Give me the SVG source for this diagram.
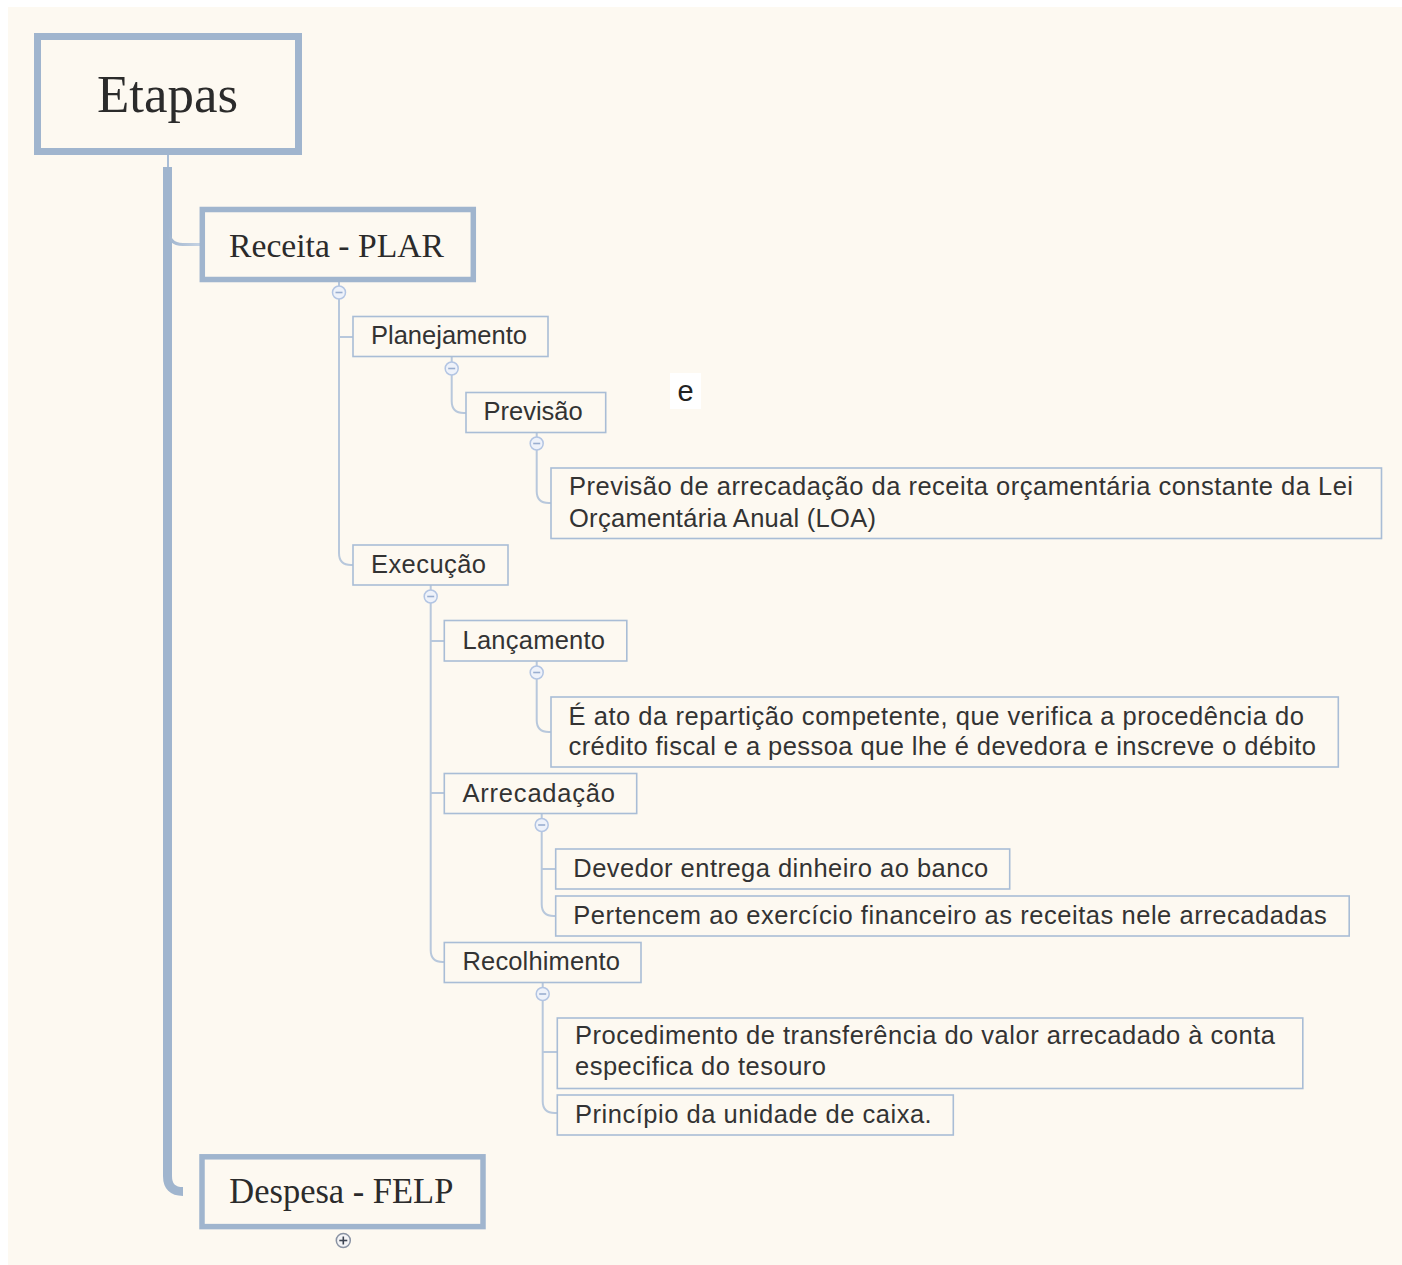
<svg xmlns="http://www.w3.org/2000/svg" width="1402" height="1265" viewBox="0 0 1402 1265">
<defs>
<style>
.bg{fill:#fdf9f1}
.main{fill:none;stroke:#a0b5ce;stroke-width:7}
.sec{fill:none;stroke:#a0b5ce;stroke-width:5.5}
.box{fill:#fdf9f1;stroke:#a9bdd6;stroke-width:1.6}
.ser{font-family:"Liberation Serif","DejaVu Serif",serif;fill:#2b2b2b}
.sans{font-family:"Liberation Sans",Arial,sans-serif;font-size:25.5px;fill:#333}
.con{fill:none;stroke:#b8c8dc;stroke-width:2}
.tog{fill:#eef2fa;stroke:#b3c5e3;stroke-width:1.5}
.tm{stroke:#9aaed0;stroke-width:1.6}
</style>
<linearGradient id="fadeH" x1="0" y1="0" x2="1" y2="0">
<stop offset="0" stop-color="#a0b5ce"/>
<stop offset="1" stop-color="#c6d3e3"/>
</linearGradient>
</defs>
<rect x="0" y="0" width="1402" height="1265" fill="#ffffff"/>
<rect class="bg" x="8" y="7" width="1394" height="1258"/>

<g id="connectors">
<line x1="168" y1="155" x2="168" y2="168" stroke="#a9bdd6" stroke-width="2"/>
<path d="M167.5 167 V1176 Q167.5 1191.5 183 1191.5" fill="none" stroke="#a0b5ce" stroke-width="9"/>
<path d="M182 1191.5 H200" fill="none" stroke="url(#fadeH)" stroke-width="4"/>
<path d="M168 228 Q168 244.5 183 244.5 H200" fill="none" stroke="url(#fadeH)" stroke-width="3"/>
<path class="con" d="M339 282 V286"/>
<path class="con" d="M339 299 V553 Q339 565 351 565 H353"/>
<path class="con" d="M339 337 H353"/>
<path class="con" d="M451.7 357 V362"/>
<path class="con" d="M451.7 375 V401 Q451.7 413 463.7 413 H466"/>
<path class="con" d="M536.7 432.7 V437"/>
<path class="con" d="M536.7 450 V491 Q536.7 503 548.7 503 H551"/>
<path class="con" d="M430.7 585 V590"/>
<path class="con" d="M430.7 603 V950 Q430.7 962 442.7 962 H444.3"/>
<path class="con" d="M430.7 641 H444.3"/>
<path class="con" d="M430.7 793 H444.3"/>
<path class="con" d="M536.7 661 V666"/>
<path class="con" d="M536.7 679 V720 Q536.7 732 548.7 732 H551"/>
<path class="con" d="M541.7 813.7 V818.5"/>
<path class="con" d="M541.7 831.5 V904 Q541.7 916 553.7 916 H555.7"/>
<path class="con" d="M541.7 869 H555.7"/>
<path class="con" d="M542.7 982.3 V987.5"/>
<path class="con" d="M542.7 1000.5 V1101 Q542.7 1113 554.7 1113 H557.3"/>
<path class="con" d="M542.7 1052 H557.3"/>
</g>

<g id="etapas">
<rect class="main" x="37.5" y="36.5" width="261" height="115"/>
<text class="ser" x="97" y="112" font-size="53" textLength="141" lengthAdjust="spacingAndGlyphs">Etapas</text>
</g>

<g id="receita">
<rect class="sec" x="202.3" y="209.5" width="271" height="70"/>
<text class="ser" x="229" y="257" font-size="34" textLength="215" lengthAdjust="spacingAndGlyphs">Receita - PLAR</text>
<circle class="tog" cx="339" cy="292.5" r="6.5"/>
<line class="tm" x1="335.5" y1="292.5" x2="342.5" y2="292.5"/>
</g>

<g id="planejamento">
<rect class="box" x="353" y="316.5" width="195" height="40"/>
<text class="sans" x="371" y="344">Planejamento</text>
<circle class="tog" cx="451.7" cy="368.5" r="6.5"/>
<line class="tm" x1="448.2" y1="368.5" x2="455.2" y2="368.5"/>
</g>

<g id="previsao">
<rect class="box" x="466" y="392.5" width="139.7" height="40"/>
<text class="sans" x="483.5" y="420">Previsão</text>
<circle class="tog" cx="536.7" cy="443.5" r="6.5"/>
<line class="tm" x1="533.2" y1="443.5" x2="540.2" y2="443.5"/>
</g>

<g id="e-label">
<rect x="670" y="373" width="31" height="36" fill="#ffffff"/>
<text x="685.5" y="400.5" font-family="Liberation Sans, Arial, sans-serif" font-size="29" fill="#222" text-anchor="middle">e</text>
</g>

<g id="previsao-desc">
<rect class="box" x="551" y="468" width="830.5" height="70.5"/>
<text class="sans" x="569" y="495" textLength="784" lengthAdjust="spacing">Previsão de arrecadação da receita orçamentária constante da Lei</text>
<text class="sans" x="569" y="526.5" textLength="307" lengthAdjust="spacing">Orçamentária Anual (LOA)</text>
</g>

<g id="execucao">
<rect class="box" x="353" y="545" width="155" height="40"/>
<text class="sans" x="371" y="573" textLength="115" lengthAdjust="spacing">Execução</text>
<circle class="tog" cx="430.7" cy="596.5" r="6.5"/>
<line class="tm" x1="427.2" y1="596.5" x2="434.2" y2="596.5"/>
</g>

<g id="lancamento">
<rect class="box" x="444.3" y="620.5" width="182.5" height="40.5"/>
<text class="sans" x="462.5" y="649" textLength="142.5" lengthAdjust="spacing">Lançamento</text>
<circle class="tog" cx="536.7" cy="672.5" r="6.5"/>
<line class="tm" x1="533.2" y1="672.5" x2="540.2" y2="672.5"/>
</g>

<g id="lancamento-desc">
<rect class="box" x="551" y="697" width="787.3" height="70"/>
<text class="sans" x="568.5" y="724.5" textLength="735.5" lengthAdjust="spacing">É ato da repartição competente, que verifica a procedência do</text>
<text class="sans" x="568.5" y="755" textLength="747.5" lengthAdjust="spacing">crédito fiscal e a pessoa que lhe é devedora e inscreve o débito</text>
</g>

<g id="arrecadacao">
<rect class="box" x="444.3" y="773.5" width="192.4" height="40"/>
<text class="sans" x="462.5" y="801.5" textLength="152.5" lengthAdjust="spacing">Arrecadação</text>
<circle class="tog" cx="541.7" cy="825" r="6.5"/>
<line class="tm" x1="538.2" y1="825" x2="545.2" y2="825"/>
</g>

<g id="devedor">
<rect class="box" x="555.7" y="849" width="454" height="40"/>
<text class="sans" x="573.3" y="877" textLength="415" lengthAdjust="spacing">Devedor entrega dinheiro ao banco</text>
</g>

<g id="pertencem">
<rect class="box" x="555.7" y="896" width="793.5" height="40"/>
<text class="sans" x="573.3" y="924" textLength="753.4" lengthAdjust="spacing">Pertencem ao exercício financeiro as receitas nele arrecadadas</text>
</g>

<g id="recolhimento">
<rect class="box" x="444.3" y="942.5" width="196.7" height="40"/>
<text class="sans" x="462.5" y="970" textLength="157.5" lengthAdjust="spacing">Recolhimento</text>
<circle class="tog" cx="542.7" cy="994" r="6.5"/>
<line class="tm" x1="539.2" y1="994" x2="546.2" y2="994"/>
</g>

<g id="procedimento">
<rect class="box" x="557.3" y="1018" width="745.5" height="70.5"/>
<text class="sans" x="575" y="1043.5" textLength="700" lengthAdjust="spacing">Procedimento de transferência do valor arrecadado à conta</text>
<text class="sans" x="575" y="1075" textLength="251" lengthAdjust="spacing">especifica do tesouro</text>
</g>

<g id="principio">
<rect class="box" x="557.3" y="1095" width="396" height="40"/>
<text class="sans" x="575" y="1123" textLength="356.7" lengthAdjust="spacing">Princípio da unidade de caixa.</text>
</g>

<g id="despesa">
<rect class="sec" x="202" y="1156.8" width="281" height="69.8"/>
<text class="ser" x="229.3" y="1202.7" font-size="35" textLength="224" lengthAdjust="spacingAndGlyphs">Despesa - FELP</text>
<circle cx="343.3" cy="1240.5" r="7" fill="#f4f4f6" stroke="#8a93a3" stroke-width="1.5"/>
<line x1="339.3" y1="1240.5" x2="347.3" y2="1240.5" stroke="#3d4452" stroke-width="1.6"/>
<line x1="343.3" y1="1236.5" x2="343.3" y2="1244.5" stroke="#3d4452" stroke-width="1.6"/>
</g>
</svg>
